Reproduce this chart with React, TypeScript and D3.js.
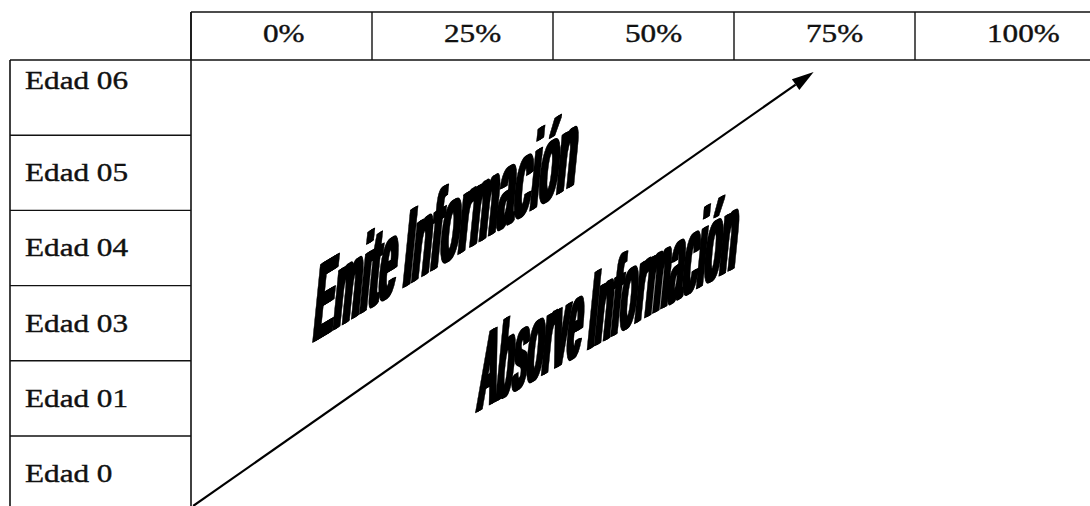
import React from 'react';
import * as d3 from 'd3';

// header columns and row labels
const columns = ['0%', '25%', '50%', '75%', '100%'];
const rows = ['Edad 06', 'Edad 05', 'Edad 04', 'Edad 03', 'Edad 01', 'Edad 0'];

// arrow in (percent, row-units from the bottom)
const arrowFrom: [number, number] = [0.3, 0.07];
const arrowTo: [number, number] = [86, 5.84];

// the two slanted word-art labels: anchor in (percent, row-units), slope of baseline, width in em
const bigLabels = [
  { text: 'Emite Información', at: [16.5, 2.23], slope: -0.605, length: 262, em: 8.724 },
  { text: 'Absorve Información', at: [39.2, 1.31], slope: -0.56, length: 258, em: 9.992 },
];

const W = 1090;
const H = 506;

export default function App() {
  const left = 10;
  const gridLeft = 191;
  const headTop = 12;
  const headBottom = 60;

  const x = d3.scaleBand<string>().domain(columns).range([gridLeft, gridLeft + 181 * columns.length]);
  const y = d3.scaleBand<string>().domain(rows).range([headBottom, headBottom + 75.2 * rows.length]);
  const xPct = d3.scaleLinear().domain([0, 125]).range([gridLeft, gridLeft + 181 * 5]);
  const yRow = d3.scaleLinear().domain([0, rows.length]).range([headBottom + 75.2 * rows.length, headBottom]);

  const line = '#111';
  const serif = '"Liberation Serif", "Times New Roman", serif';

  // arrow with filled head
  const x1 = xPct(arrowFrom[0]), y1 = yRow(arrowFrom[1]);
  const x2 = xPct(arrowTo[0]), y2 = yRow(arrowTo[1]);
  const ang = Math.atan2(y2 - y1, x2 - x1);
  const headLen = 22, headHalf = 6.5;
  const bx = x2 - headLen * Math.cos(ang), by = y2 - headLen * Math.sin(ang);
  const head = [
    [x2, y2],
    [bx + headHalf * Math.sin(ang), by - headHalf * Math.cos(ang)],
    [bx - headHalf * Math.sin(ang), by + headHalf * Math.cos(ang)],
  ];

  const baseSize = 40;
  const capScale = 112 / baseSize;
  const fatten = [0, 1.2, 2.4, 3.4]; // screen px shifts along the baseline, to thicken stems

  return (
    <svg width={W} height={H} style={{ position: 'absolute', left: 0, top: 0, background: '#fff' }}>
      <rect width={W} height={H} fill="#fff" />

      {/* header row */}
      <line x1={gridLeft} x2={W} y1={headTop} y2={headTop} stroke={line} strokeWidth={1.6} />
      <line x1={left} x2={W} y1={headBottom} y2={headBottom} stroke={line} strokeWidth={1.6} />
      {columns.map(c => (
        <g key={c}>
          <line x1={x(c)!} x2={x(c)!} y1={headTop} y2={headBottom} stroke={line} strokeWidth={1.4} />
          <text
            transform={`translate(${x(c)! + 72},42) scale(1.2,1)`}
            fontFamily={serif}
            fontSize={26}
            fill="#111"
            stroke="#111"
            strokeWidth={0.4}
          >
            {c}
          </text>
        </g>
      ))}

      {/* row labels */}
      <line x1={left} x2={left} y1={headBottom} y2={H} stroke={line} strokeWidth={1.6} />
      <line x1={gridLeft} x2={gridLeft} y1={headTop} y2={H} stroke={line} strokeWidth={1.6} />
      {rows.map((r, i) => (
        <g key={r}>
          {i > 0 && <line x1={left} x2={gridLeft} y1={y(r)!} y2={y(r)!} stroke={line} strokeWidth={1.4} />}
          <text
            transform={`translate(25,${y(r)! + (i === 0 ? 29 : 46)}) scale(1.2,1)`}
            fontFamily={serif}
            fontSize={26}
            fill="#111"
            stroke="#111"
            strokeWidth={0.4}
          >
            {r}
          </text>
        </g>
      ))}

      {/* arrow */}
      <line x1={x1} y1={y1} x2={bx} y2={by} stroke="#000" strokeWidth={2.2} />
      <polygon points={head.map(p => p.join(',')).join(' ')} fill="#000" />

      {/* slanted labels */}
      {bigLabels.map(l => {
        const natural = l.em * baseSize;
        const sx = l.length / natural;
        return (
          <g
            key={l.text}
            transform={`matrix(1,${l.slope},-0.1,1,${xPct(l.at[0])},${yRow(l.at[1])}) scale(${sx},${capScale})`}
          >
            {fatten.map(d => (
              <text
                key={d}
                x={d / sx}
                fontFamily='"Liberation Sans", Arial, sans-serif'
                fontWeight="bold"
                fontSize={baseSize}
                textLength={natural}
                lengthAdjust="spacingAndGlyphs"
                fill="#000"
                stroke="#000"
                strokeWidth={0.6}
                strokeLinejoin="round"
              >
                {l.text}
              </text>
            ))}
          </g>
        );
      })}
    </svg>
  );
}
